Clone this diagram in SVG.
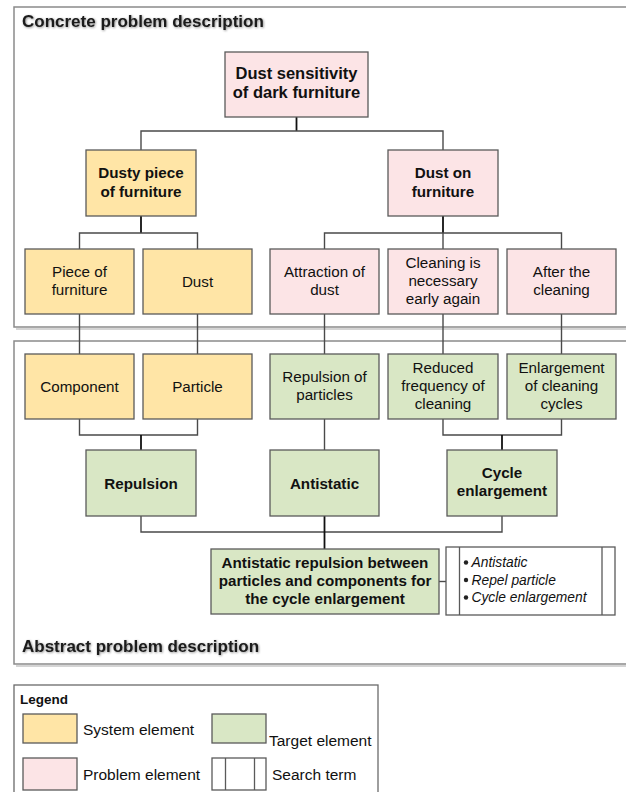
<svg xmlns="http://www.w3.org/2000/svg" width="626" height="792" viewBox="0 0 626 792">
<defs>
<filter id="tsh" x="-5%" y="-30%" width="110%" height="160%">
<feDropShadow dx="0.8" dy="0.8" stdDeviation="0.9" flood-color="#000" flood-opacity="0.45"/>
</filter>
</defs>
<style>
text{font-family:"Liberation Sans",Arial,sans-serif;fill:#111}
.panel{fill:#fff;stroke:#8a8a8a;stroke-width:1.5}
.pshadow{fill:none;stroke:#d4d4d4;stroke-width:2}
.title{font-size:17px;font-weight:bold;fill:#1a1a1a}
.sys{fill:#FFE5A6;stroke:#5a5a5a;stroke-width:1.3}
.prob{fill:#FCE4E6;stroke:#5a5a5a;stroke-width:1.3}
.tgt{fill:#D9E7C5;stroke:#5a5a5a;stroke-width:1.3}
.srch{fill:#fff;stroke:#5a5a5a;stroke-width:1.3}
.t{font-size:15.2px;text-anchor:middle}
.b{font-size:15.2px;font-weight:bold;text-anchor:middle}
.big{font-size:16.5px;font-weight:bold;text-anchor:middle}
.it{font-size:13.8px;font-style:italic}
.lg{font-size:15.5px}
.conn path{fill:none;stroke:#4a4a4a;stroke-width:1.4}
.conn path.trunk{stroke:#111;stroke-width:1.8}
</style>

<g id="panel-concrete">
<path class="pshadow" d="M16 329 H640"/>
<rect class="panel" x="14" y="7" width="630" height="320"/>
<text class="title" x="22" y="27" filter="url(#tsh)">Concrete problem description</text>
</g>
<g id="panel-abstract">
<path class="pshadow" d="M16 666 H640"/>
<rect class="panel" x="14" y="341" width="630" height="323"/>
<text class="title" x="22" y="652" filter="url(#tsh)">Abstract problem description</text>
</g>

<g id="connectors" class="conn">
<path class="trunk" d="M296.5 117 V131"/>
<path d="M141 150 V131 H443 V150"/>
<path class="trunk" d="M141 216 V233"/>
<path d="M79.5 249 V233 H197.5 V249"/>
<path class="trunk" d="M443 216 V233"/>
<path d="M324.5 249 V233 H561.5 V249"/>
<path d="M443 233 V249"/>
<path d="M79.5 314 V354"/>
<path d="M197.5 314 V354"/>
<path d="M324.5 314 V354"/>
<path d="M443 314 V354"/>
<path d="M561.5 314 V354"/>
<path d="M79.5 419 V435 H197.5 V419"/>
<path class="trunk" d="M141 435 V450"/>
<path d="M443 419 V435 H561.5 V419"/>
<path class="trunk" d="M502 435 V450"/>
<path d="M324.5 419 V450"/>
<path d="M141 516 V532 H502 V516"/>
<path class="trunk" d="M324.5 516 V549"/>
<path d="M439 581.5 H446"/>
</g>

<g id="n-dust-sensitivity">
<rect class="prob" x="225" y="52" width="143" height="65"/>
<text class="big" x="296.5" y="79">Dust sensitivity</text>
<text class="big" x="296.5" y="98">of dark furniture</text>
</g>
<g id="n-dusty-piece">
<rect class="sys" x="86" y="150" width="110" height="66"/>
<text class="b" x="141" y="178">Dusty piece</text>
<text class="b" x="141" y="197">of furniture</text>
</g>
<g id="n-dust-on-furniture">
<rect class="prob" x="388" y="150" width="110" height="66"/>
<text class="b" x="443" y="178">Dust on</text>
<text class="b" x="443" y="197">furniture</text>
</g>

<g id="n-piece-of-furniture">
<rect class="sys" x="25" y="249" width="109" height="65"/>
<text class="t" x="79.5" y="277">Piece of</text>
<text class="t" x="79.5" y="295">furniture</text>
</g>
<g id="n-dust">
<rect class="sys" x="143" y="249" width="109" height="65"/>
<text class="t" x="197.5" y="286.5">Dust</text>
</g>
<g id="n-attraction">
<rect class="prob" x="270" y="249" width="109" height="65"/>
<text class="t" x="324.5" y="277">Attraction of</text>
<text class="t" x="324.5" y="295">dust</text>
</g>
<g id="n-cleaning-necessary">
<rect class="prob" x="388" y="249" width="110" height="65"/>
<text class="t" x="443" y="268">Cleaning is</text>
<text class="t" x="443" y="286">necessary</text>
<text class="t" x="443" y="304">early again</text>
</g>
<g id="n-after-cleaning">
<rect class="prob" x="507" y="249" width="109" height="65"/>
<text class="t" x="561.5" y="277">After the</text>
<text class="t" x="561.5" y="295">cleaning</text>
</g>

<g id="n-component">
<rect class="sys" x="25" y="354" width="109" height="65"/>
<text class="t" x="79.5" y="391.5">Component</text>
</g>
<g id="n-particle">
<rect class="sys" x="143" y="354" width="109" height="65"/>
<text class="t" x="197.5" y="391.5">Particle</text>
</g>
<g id="n-repulsion-particles">
<rect class="tgt" x="270" y="354" width="109" height="65"/>
<text class="t" x="324.5" y="382">Repulsion of</text>
<text class="t" x="324.5" y="400">particles</text>
</g>
<g id="n-reduced-frequency">
<rect class="tgt" x="388" y="354" width="110" height="65"/>
<text class="t" x="443" y="373">Reduced</text>
<text class="t" x="443" y="391">frequency of</text>
<text class="t" x="443" y="409">cleaning</text>
</g>
<g id="n-enlargement-cycles">
<rect class="tgt" x="507" y="354" width="109" height="65"/>
<text class="t" x="561.5" y="373">Enlargement</text>
<text class="t" x="561.5" y="391">of cleaning</text>
<text class="t" x="561.5" y="409">cycles</text>
</g>

<g id="n-repulsion">
<rect class="tgt" x="86" y="450" width="110" height="66"/>
<text class="b" x="141" y="488.5">Repulsion</text>
</g>
<g id="n-antistatic">
<rect class="tgt" x="270" y="450" width="109" height="66"/>
<text class="b" x="324.5" y="488.5">Antistatic</text>
</g>
<g id="n-cycle-enlargement">
<rect class="tgt" x="447" y="450" width="110" height="66"/>
<text class="b" x="502" y="478">Cycle</text>
<text class="b" x="502" y="496">enlargement</text>
</g>

<g id="n-final">
<rect class="tgt" x="211" y="549" width="228" height="65"/>
<text class="b" x="325" y="568">Antistatic repulsion between</text>
<text class="b" x="325" y="586">particles and components for</text>
<text class="b" x="325" y="604">the cycle enlargement</text>
</g>
<g id="n-search-terms">
<rect class="srch" x="446" y="547" width="169" height="68"/>
<path d="M459.5 547 V615 M602 547 V615" fill="none" stroke="#5a5a5a" stroke-width="1.3"/>
<circle cx="466" cy="562.5" r="2.2" fill="#222"/>
<circle cx="466" cy="580" r="2.2" fill="#222"/>
<circle cx="466" cy="597.5" r="2.2" fill="#222"/>
<text class="it" x="471.5" y="567">Antistatic</text>
<text class="it" x="471.5" y="584.5">Repel particle</text>
<text class="it" x="471.5" y="602">Cycle enlargement</text>
</g>

<g id="legend">
<rect x="14" y="685" width="364" height="120" fill="#fff" stroke="#6a6a6a" stroke-width="1.3"/>
<text x="20" y="703.5" style="font-size:13.5px;font-weight:bold">Legend</text>
<rect class="sys" x="23" y="714" width="54" height="29"/>
<text class="lg" x="83" y="735">System element</text>
<rect class="tgt" x="212" y="714" width="54" height="29"/>
<text class="lg" x="269" y="746">Target element</text>
<rect class="prob" x="23" y="758" width="54" height="32"/>
<text class="lg" x="83" y="780">Problem element</text>
<rect class="srch" x="212" y="758" width="54" height="32"/>
<path d="M225.5 758 V790 M254.5 758 V790" fill="none" stroke="#5a5a5a" stroke-width="1.3"/>
<text class="lg" x="272" y="780">Search term</text>
</g>
</svg>
